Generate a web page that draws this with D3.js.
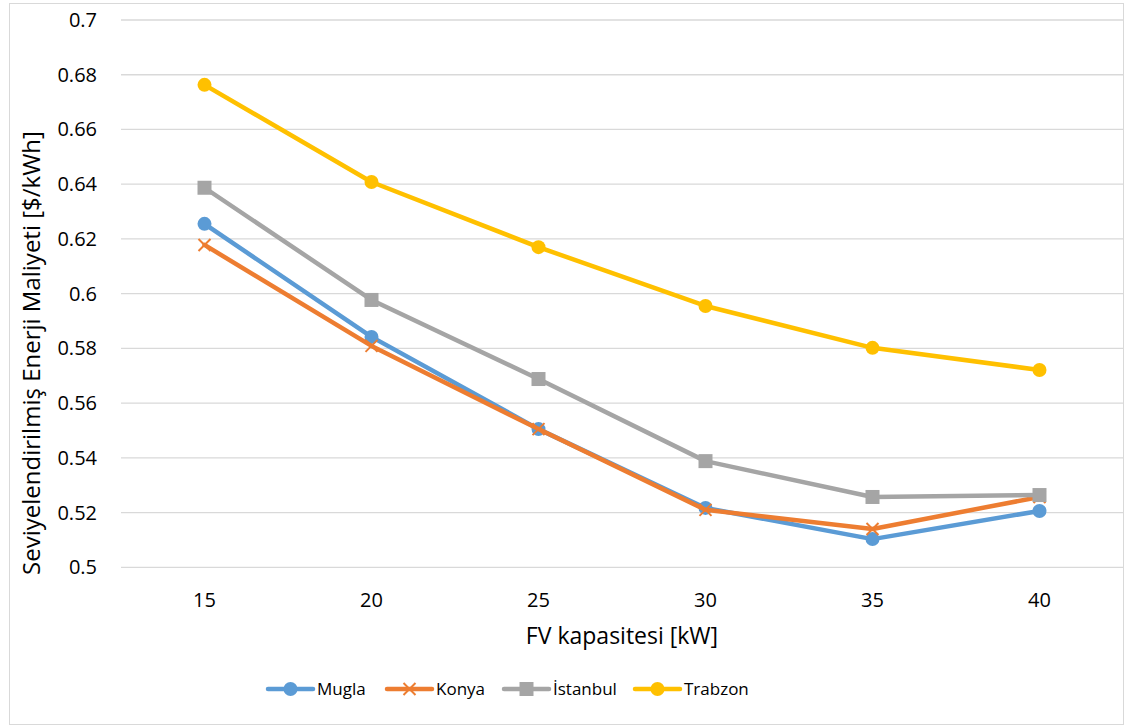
<!DOCTYPE html>
<html>
<head>
<meta charset="utf-8">
<script src="https://cdn.jsdelivr.net/npm/d3@7"></script>
<style>
  html, body { margin: 0; padding: 0; background: #fff; }
  svg { display: block; font-family: "Open Sans", "Liberation Sans", sans-serif; }
</style>
</head>
<body>
<svg id="chart" width="1130" height="727"></svg>
<script>
// PV capacity categories (kW)
const capacities = ["15", "20", "25", "30", "35", "40"];

// Levelised cost of energy per city ($/kWh)
const mugla    = [0.6255, 0.5842, 0.5505, 0.5217, 0.5103, 0.5206];
const konya    = [0.6178, 0.5809, 0.5505, 0.5210, 0.5140, 0.5257];
const istanbul = [0.6387, 0.5977, 0.5688, 0.5388, 0.5257, 0.5264];
const trabzon  = [0.6763, 0.6408, 0.6170, 0.5955, 0.5802, 0.5721];

const seriesNames = ["Mugla", "Konya", "İstanbul", "Trabzon"];
const yTicks = [0.5, 0.52, 0.54, 0.56, 0.58, 0.6, 0.62, 0.64, 0.66, 0.68, 0.7];

const series = [
  { name: seriesNames[0], values: mugla,    color: "#5B9BD5", marker: "circle" },
  { name: seriesNames[1], values: konya,    color: "#ED7D31", marker: "x" },
  { name: seriesNames[2], values: istanbul, color: "#A5A5A5", marker: "square" },
  { name: seriesNames[3], values: trabzon,  color: "#FFC000", marker: "circle" }
];

const svg = d3.select("#chart");

// outer chart border
svg.append("rect")
  .attr("x", 9.5).attr("y", 3.5)
  .attr("width", 1114).attr("height", 721)
  .attr("fill", "#fff").attr("stroke", "#D9D9D9").attr("stroke-width", 1);

const plot = { left: 121, right: 1123, top: 20, bottom: 567.3 };

const x = d3.scaleBand().domain(capacities).range([plot.left, plot.right]);
const y = d3.scaleLinear().domain([0.5, 0.7]).range([plot.bottom, plot.top]);

// horizontal gridlines
svg.append("g").selectAll("line").data(yTicks).join("line")
  .attr("x1", plot.left).attr("x2", plot.right)
  .attr("y1", d => y(d)).attr("y2", d => y(d))
  .attr("stroke", "#D9D9D9").attr("stroke-width", 1.3);

// y tick labels
svg.append("g").selectAll("text").data(yTicks).join("text")
  .attr("x", 97).attr("y", d => y(d))
  .attr("dy", "0.35em")
  .attr("text-anchor", "end")
  .attr("font-size", 20).attr("fill", "#000")
  .text(d => String(+d.toFixed(2)));

// x tick labels
svg.append("g").selectAll("text").data(capacities).join("text")
  .attr("x", d => x(d) + x.bandwidth() / 2).attr("y", 600)
  .attr("dy", "0.35em")
  .attr("text-anchor", "middle")
  .attr("font-size", 20).attr("fill", "#000")
  .text(d => d);

// axis titles
svg.append("text")
  .attr("x", 622).attr("y", 636).attr("dy", "0.35em")
  .attr("text-anchor", "middle").attr("font-size", 23).attr("fill", "#000")
  .text("FV kapasitesi [kW]");

svg.append("text")
  .attr("transform", "translate(32,353) rotate(-90)")
  .attr("dy", "0.35em")
  .attr("text-anchor", "middle").attr("font-size", 24).attr("fill", "#000")
  .text("Seviyelendirilmiş Enerji Maliyeti [$/kWh]");

const cx = (d, i) => x(capacities[i]) + x.bandwidth() / 2;

function drawMarker(g, type, color, px, py) {
  if (type === "circle") {
    g.append("circle").attr("cx", px).attr("cy", py).attr("r", 7).attr("fill", color);
  } else if (type === "square") {
    g.append("rect").attr("x", px - 7).attr("y", py - 7).attr("width", 14).attr("height", 14).attr("fill", color);
  } else {
    const s = 6;
    g.append("path")
      .attr("d", `M${px - s},${py - s}L${px + s},${py + s}M${px - s},${py + s}L${px + s},${py - s}`)
      .attr("stroke", color).attr("stroke-width", 2).attr("fill", "none");
  }
}

const line = d3.line().x(cx).y(d => y(d));

series.forEach(s => {
  const g = svg.append("g");
  g.append("path")
    .attr("d", line(s.values))
    .attr("fill", "none")
    .attr("stroke", s.color)
    .attr("stroke-width", 4.5)
    .attr("stroke-linejoin", "round")
    .attr("stroke-linecap", "round");
  s.values.forEach((v, i) => drawMarker(g, s.marker, s.color, cx(v, i), y(v)));
});

// legend
const legendX = [268, 387, 504, 635];
const legend = svg.append("g");
series.forEach((s, i) => {
  const lx = legendX[i], ly = 689;
  const g = legend.append("g");
  g.append("line")
    .attr("x1", lx).attr("x2", lx + 45).attr("y1", ly).attr("y2", ly)
    .attr("stroke", s.color).attr("stroke-width", 4.5).attr("stroke-linecap", "round");
  drawMarker(g, s.marker, s.color, lx + 22.5, ly);
  g.append("text")
    .attr("x", lx + 49).attr("y", ly).attr("dy", "0.35em")
    .attr("font-size", 17).attr("fill", "#000")
    .text(s.name);
});
</script>
</body>
</html>
